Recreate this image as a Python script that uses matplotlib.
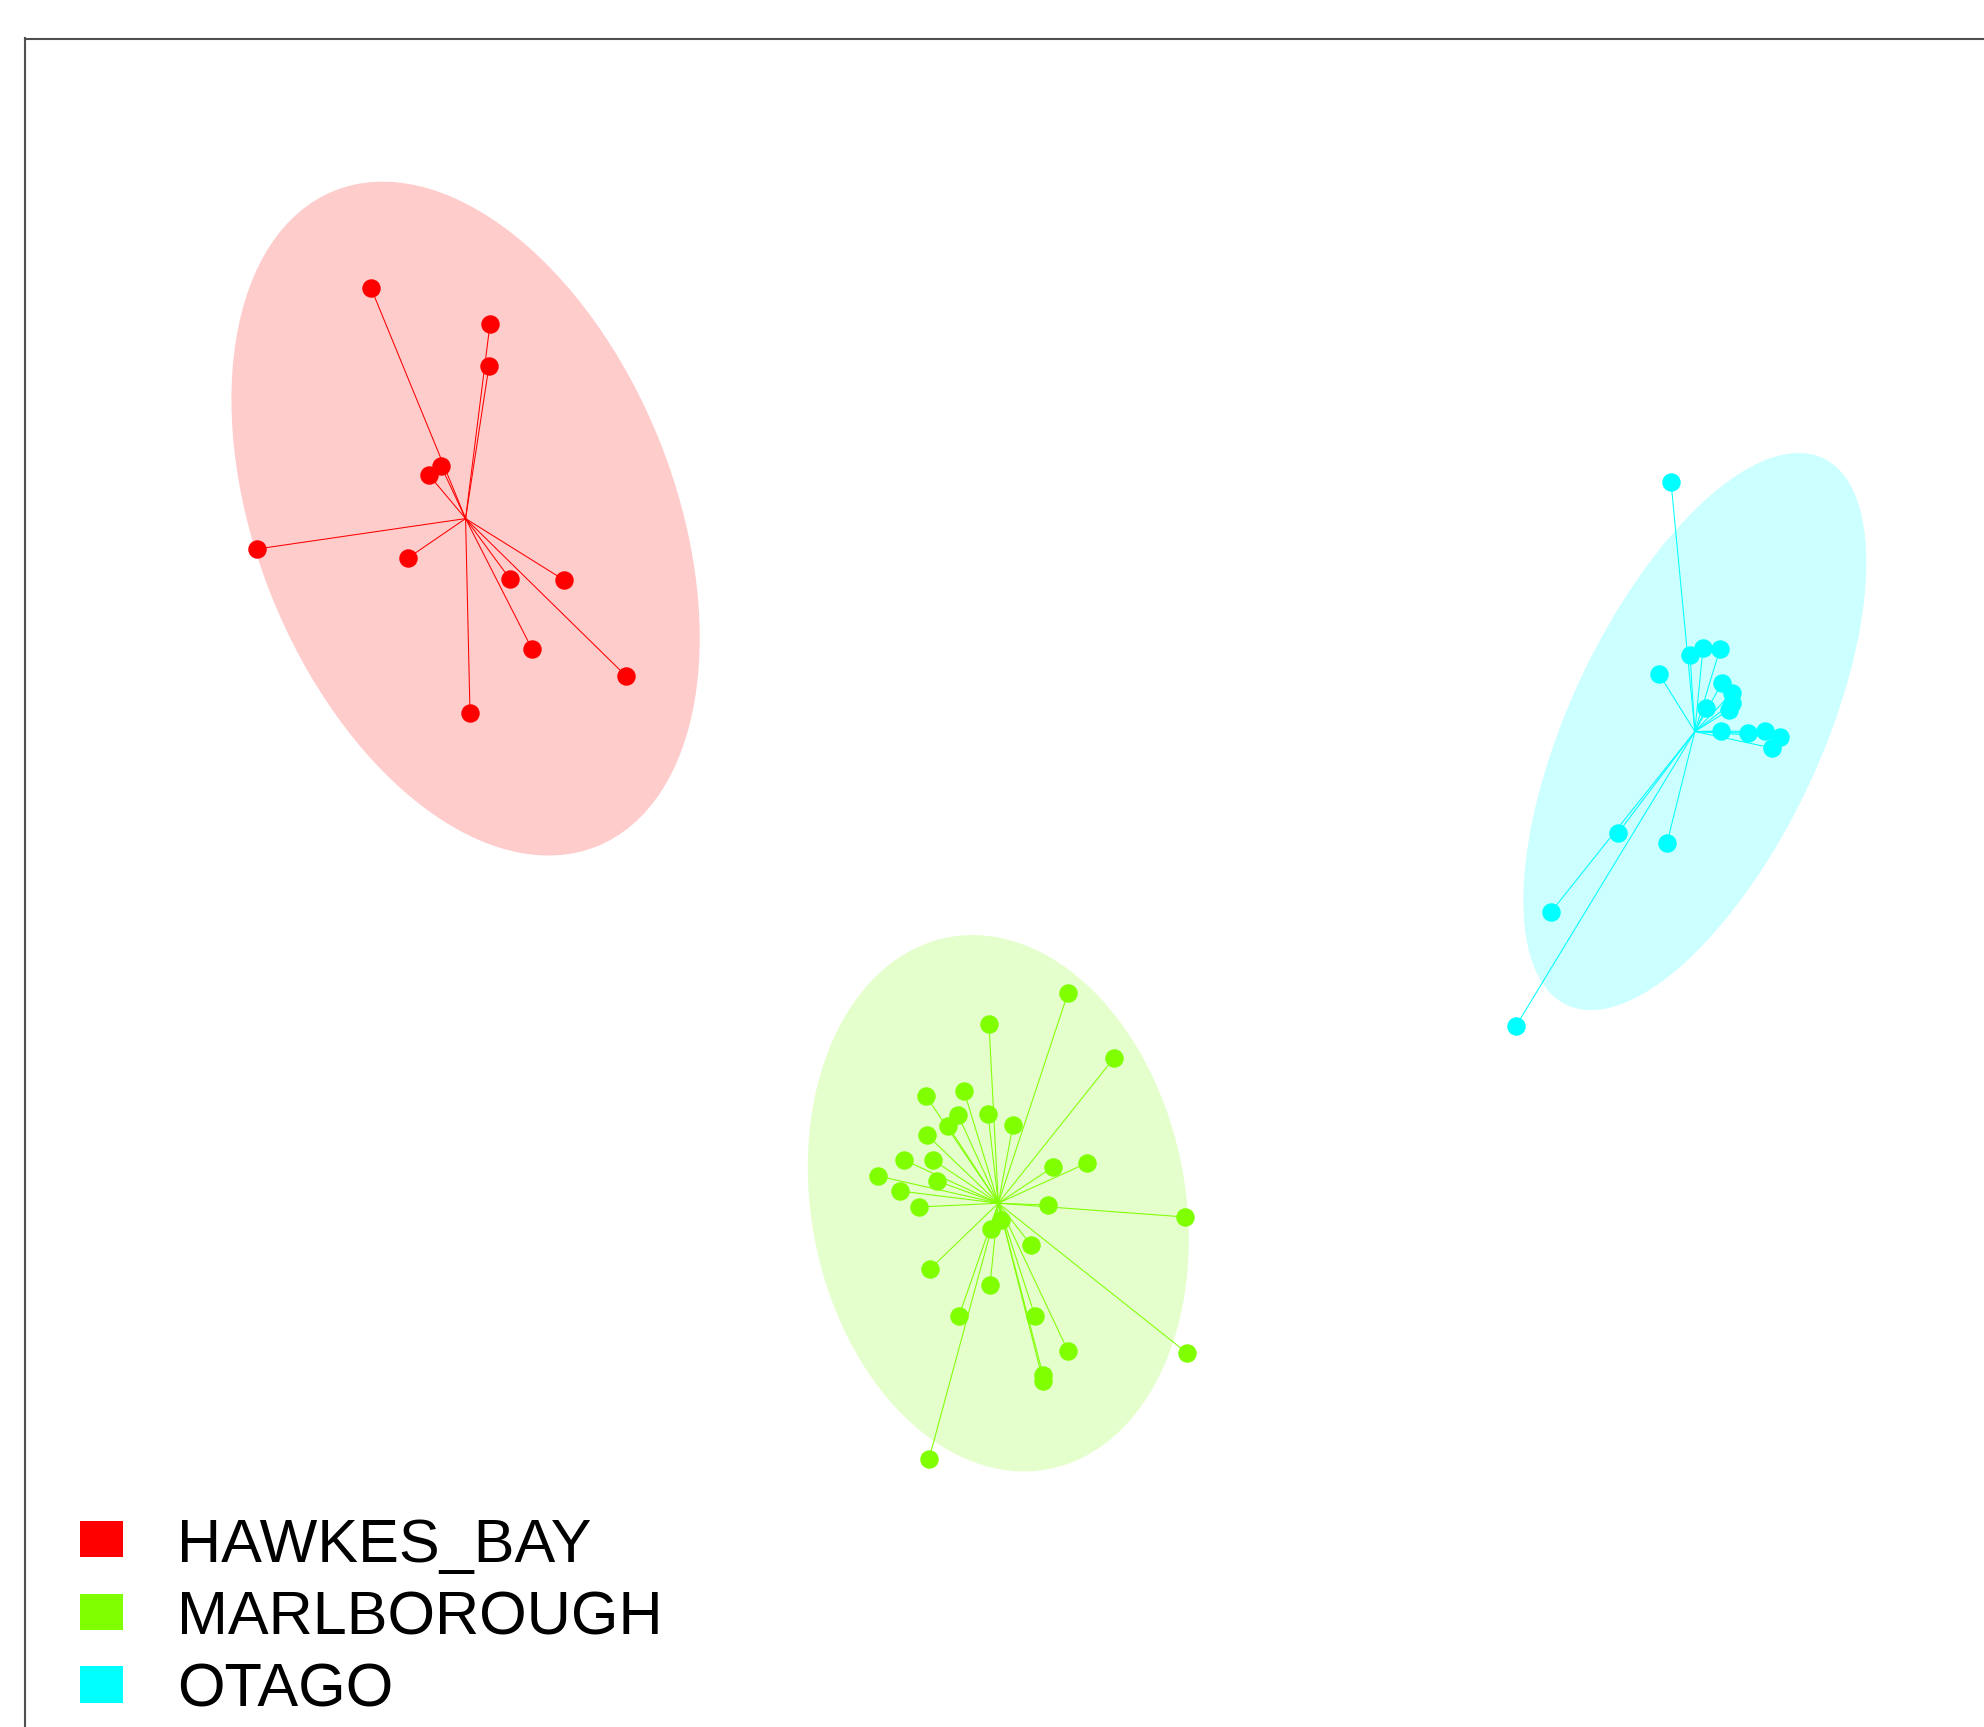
import numpy as np
import matplotlib
matplotlib.use("Agg")
import matplotlib.pyplot as plt
from matplotlib.patches import Ellipse, Rectangle

# ---- data (ordination scores) ----
groups = ["HAWKES_BAY", "MARLBOROUGH", "OTAGO"]
colors = ["#FF0000", "#7FFF00", "#00FFFF"]

hawkes_x = [3.46, 4.65, 4.64, 4.16, 4.04, 2.32, 3.83, 4.85, 5.39, 5.07, 6.01, 4.45]
hawkes_y = [14.39, 14.03, 13.61, 12.61, 12.52, 11.78, 11.69, 11.48, 11.47, 10.78, 10.51, 10.14]

marl_x = [10.43, 9.64, 10.89, 9.01, 9.39, 9.33, 9.23, 9.63, 9.88, 9.02, 8.79, 9.08,
          8.53, 9.12, 8.75, 8.94, 10.28, 10.62, 10.23, 11.60, 9.76, 9.66, 10.06, 9.05,
          9.65, 9.34, 10.10, 10.43, 11.62, 10.18, 10.18, 9.04]
marl_y = [7.34, 7.03, 6.69, 6.31, 6.36, 6.12, 6.01, 6.13, 6.02, 5.92, 5.67, 5.67,
          5.51, 5.46, 5.36, 5.20, 5.60, 5.64, 5.22, 5.10, 5.07, 4.98, 4.82, 4.58,
          4.42, 4.11, 4.11, 3.76, 3.74, 3.52, 3.46, 2.68]

otago_x = [16.46, 16.65, 16.78, 16.95, 16.34, 16.97, 17.07, 17.07, 17.04, 16.81,
           16.96, 17.23, 17.40, 17.55, 17.47, 15.93, 16.42, 15.26, 14.91]
otago_y = [12.45, 10.72, 10.79, 10.78, 10.53, 10.44, 10.34, 10.24, 10.17, 10.19,
           9.96, 9.94, 9.96, 9.90, 9.79, 8.94, 8.84, 8.15, 7.01]

xs = [hawkes_x, marl_x, otago_x]
ys = [hawkes_y, marl_y, otago_y]

CHI2_95_2DF = 5.991

W, H = 1984, 1727
fig = plt.figure(figsize=(W / 100, H / 100), dpi=100)
ax_left = 25 / W
ax_top = 38.5 / H
ax = fig.add_axes([ax_left, 0, 1 - ax_left, 1 - ax_top])
ax.set_xlim(0, (W - 25) / 100)
ax.set_ylim(0, (H - 38.5) / 100)
ax.set_xticks([])
ax.set_yticks([])
for s in ["right", "bottom"]:
    ax.spines[s].set_visible(False)
for s in ["left", "top"]:
    ax.spines[s].set_color("#505050")
    ax.spines[s].set_linewidth(1.5)

for gx, gy, col in zip(xs, ys, colors):
    gx = np.asarray(gx)
    gy = np.asarray(gy)
    cx, cy = gx.mean(), gy.mean()
    cov = np.cov(np.vstack([gx, gy]), ddof=1)
    vals, vecs = np.linalg.eigh(cov)
    order = vals.argsort()[::-1]
    vals, vecs = vals[order], vecs[:, order]
    angle = np.degrees(np.arctan2(vecs[1, 0], vecs[0, 0]))
    width = 2 * np.sqrt(CHI2_95_2DF * vals[0])
    height = 2 * np.sqrt(CHI2_95_2DF * vals[1])
    ax.add_patch(Ellipse((cx, cy), width, height, angle=angle,
                         facecolor=col, alpha=0.2, edgecolor="none", zorder=1))
    for px, py in zip(gx, gy):
        ax.plot([cx, px], [cy, py], color=col, lw=0.75, zorder=2)
    ax.plot(gx, gy, "o", color=col, markersize=13.3, markeredgewidth=0, zorder=3)

# ---- legend (manual, figure pixel layout) ----
sq_top = [1520.7, 1593.5, 1666.3]
baselines = [1562.0, 1634.5, 1706.5]
for lab, col, st, bl in zip(groups, colors, sq_top, baselines):
    fig.add_artist(Rectangle((80 / W, 1 - (st + 36.7) / H), 43.3 / W, 36.7 / H,
                             transform=fig.transFigure, facecolor=col,
                             edgecolor="none"))
    fig.text(177 / W, 1 - bl / H, lab, fontsize=44, family="Liberation Sans",
             va="baseline", ha="left", color="black")

fig.savefig("out.png", dpi=100)
